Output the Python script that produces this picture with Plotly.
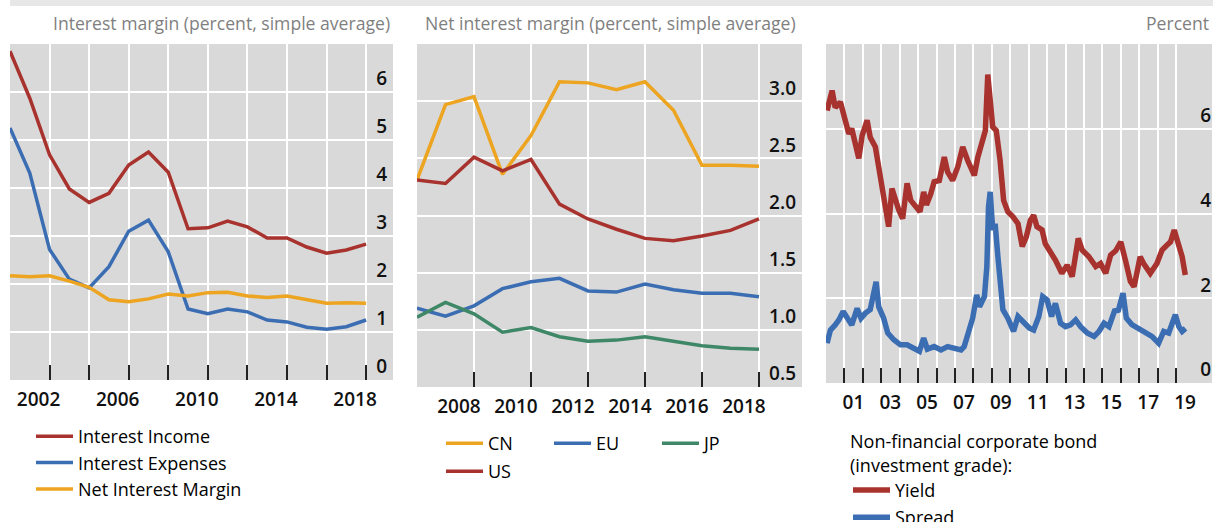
import plotly.graph_objects as go

W, H = 1213, 522

# ---------------- Panel 1: interest margin (simple average) ----------------
p1_years = list(range(2000, 2019))
p1_income = [6.85, 5.87, 4.69, 3.98, 3.70, 3.89, 4.48, 4.75, 4.33, 3.15, 3.17, 3.31,
             3.19, 2.96, 2.96, 2.77, 2.64, 2.71, 2.83]
p1_expenses = [5.25, 4.31, 2.72, 2.10, 1.92, 2.36, 3.10, 3.33, 2.67, 1.48, 1.38, 1.48,
               1.42, 1.25, 1.21, 1.10, 1.06, 1.11, 1.25]
p1_nim = [2.17, 2.15, 2.17, 2.06, 1.93, 1.67, 1.63, 1.69, 1.79, 1.75, 1.82, 1.83,
          1.75, 1.72, 1.75, 1.68, 1.60, 1.61, 1.60]
p1_tickvals = [2002, 2006, 2010, 2014, 2018]
p1_ticktext = ["2002", "2006", "2010", "2014", "2018"]
p1_minor = list(range(2000, 2019, 2))

# ---------------- Panel 2: net interest margin by region ----------------
p2_years = list(range(2006, 2019))
p2_cn = [2.31, 2.97, 3.04, 2.36, 2.70, 3.17, 3.16, 3.10, 3.17, 2.92, 2.44, 2.44, 2.43]
p2_us = [2.31, 2.28, 2.51, 2.39, 2.49, 2.10, 1.97, 1.88, 1.80, 1.78, 1.82, 1.87, 1.97]
p2_eu = [1.19, 1.12, 1.21, 1.36, 1.42, 1.45, 1.34, 1.33, 1.40, 1.35, 1.32, 1.32, 1.29]
p2_jp = [1.11, 1.24, 1.14, 0.98, 1.02, 0.94, 0.90, 0.91, 0.94, 0.90, 0.86, 0.84, 0.83]
p2_tickvals = [2008, 2010, 2012, 2014, 2016, 2018]
p2_ticktext = ["2008", "2010", "2012", "2014", "2016", "2018"]
p2_minor = list(range(2006, 2019, 2))
p2_yticks = [0.5, 1.0, 1.5, 2.0, 2.5, 3.0]

# ---------------- Panel 3: non-financial corporate bond (IG) ----------------
yield_t = [2000.06, 2000.33, 2000.5, 2000.78, 2001.0, 2001.24, 2001.4, 2001.6, 2001.78,
           2001.96, 2002.23, 2002.4, 2002.68, 2002.86, 2003.04, 2003.2, 2003.4, 2003.58,
           2003.77, 2003.95, 2004.16, 2004.4, 2004.6, 2004.85, 2005.1, 2005.3, 2005.45,
           2005.69, 2005.87, 2006.15, 2006.42, 2006.6, 2006.87, 2007.15, 2007.42, 2007.69,
           2008.05, 2008.24, 2008.5, 2008.65, 2008.78, 2008.91, 2009.05, 2009.24, 2009.45,
           2009.64, 2009.87, 2010.15, 2010.42, 2010.65, 2010.87, 2011.09, 2011.27, 2011.45,
           2011.73, 2011.9, 2012.18, 2012.45, 2012.8, 2013.09, 2013.36, 2013.69, 2013.9,
           2014.27, 2014.64, 2014.9, 2015.18, 2015.45, 2015.72, 2016.0, 2016.25, 2016.52,
           2016.72, 2016.9, 2017.05, 2017.24, 2017.6, 2017.96, 2018.24, 2018.5, 2018.7,
           2018.9, 2019.15, 2019.33, 2019.5]
yield_v = [6.43, 6.90, 6.50, 6.63, 6.27, 5.88, 6.00, 5.65, 5.30,
           5.84, 6.20, 5.80, 5.57, 5.10, 4.67, 4.31, 3.69, 4.59,
           4.31, 4.08, 3.88, 4.71, 4.31, 4.16, 4.04, 4.51, 4.20,
           4.47, 4.75, 4.78, 5.33, 4.98, 4.78, 5.10, 5.57, 5.25,
           4.90, 5.33, 5.73, 5.96, 7.28, 6.67, 6.04, 5.96, 5.25,
           4.31, 4.04, 3.92, 3.76, 3.22, 3.45, 3.84, 3.96, 3.69,
           3.61, 3.29, 3.10, 2.90, 2.59, 2.78, 2.51, 3.41, 3.14,
           2.98, 2.75, 2.82, 2.59, 3.02, 3.12, 3.33, 2.90, 2.40,
           2.27, 2.75, 2.98, 2.82, 2.59, 2.82, 3.14, 3.25, 3.33,
           3.61, 3.25, 2.98, 2.55]
spread_t = [2000.06, 2000.24, 2000.5, 2000.7, 2000.93, 2001.14, 2001.4, 2001.69, 2001.9,
            2002.14, 2002.4, 2002.59, 2002.72, 2002.86, 2003.13, 2003.35, 2003.68, 2004.04,
            2004.4, 2004.76, 2005.07, 2005.3, 2005.5, 2005.87, 2006.24, 2006.6, 2006.96,
            2007.33, 2007.5, 2007.69, 2007.96, 2008.18, 2008.33, 2008.6, 2008.73, 2008.82,
            2008.91, 2009.05, 2009.18, 2009.33, 2009.45, 2009.6, 2009.87, 2010.18, 2010.42,
            2010.69, 2011.03, 2011.27, 2011.55, 2011.76, 2012.0, 2012.24, 2012.45, 2012.73,
            2013.0, 2013.27, 2013.55, 2013.82, 2014.18, 2014.55, 2014.82, 2015.09, 2015.36,
            2015.66, 2015.87, 2016.12, 2016.3, 2016.6, 2016.96, 2017.33, 2017.69, 2018.05,
            2018.33, 2018.6, 2018.78, 2018.96, 2019.15, 2019.33, 2019.51]
spread_v = [0.94, 1.25, 1.37, 1.49, 1.69, 1.57, 1.37, 1.76, 1.53,
            1.65, 1.73, 2.12, 2.39, 1.80, 1.53, 1.18, 1.02, 0.90,
            0.90, 0.82, 0.75, 1.06, 0.80, 0.86, 0.78, 0.86, 0.82,
            0.78, 0.86, 1.18, 1.53, 2.08, 1.80, 2.04, 2.75, 4.16,
            4.51, 3.61, 3.76, 2.98, 2.27, 1.73, 1.53, 1.22, 1.57,
            1.45, 1.30, 1.25, 1.57, 2.04, 1.96, 1.57, 1.88, 1.41,
            1.33, 1.37, 1.49, 1.33, 1.18, 1.10, 1.22, 1.41, 1.33,
            1.70, 1.72, 2.12, 1.53, 1.38, 1.29, 1.18, 1.10, 0.94,
            1.22, 1.18, 1.37, 1.61, 1.33, 1.22, 1.29]
p3_tickvals = [2001, 2003, 2005, 2007, 2009, 2011, 2013, 2015, 2017, 2019]
p3_ticktext = ["01", "03", "05", "07", "09", "11", "13", "15", "17", "19"]
p3_minor = list(range(2001, 2020))
p3_yticks = [0, 2, 4, 6]

RED = "#A8322D"
BLUE = "#3B6DB3"
YEL = "#EDA521"
GRN = "#3E8767"
BG = "#D9D9D9"
FONT = "Open Sans"

fig = go.Figure()

def line(x, y, name, color, xa, ya, lg, w=3.5):
    fig.add_trace(go.Scatter(x=x, y=y, name=name, mode="lines",
                             line=dict(color=color, width=w),
                             xaxis=xa, yaxis=ya, legend=lg, hoverinfo="skip"))

line(p1_years, p1_income, "Interest Income", RED, "x", "y", "legend")
line(p1_years, p1_expenses, "Interest Expenses", BLUE, "x", "y", "legend")
line(p1_years, p1_nim, "Net Interest Margin", YEL, "x", "y", "legend")

line(p2_years, p2_cn, "CN", YEL, "x2", "y2", "legend2")
line(p2_years, p2_eu, "EU", BLUE, "x2", "y2", "legend2")
line(p2_years, p2_jp, "JP", GRN, "x2", "y2", "legend2")
line(p2_years, p2_us, "US", RED, "x2", "y2", "legend3")

line(yield_t, yield_v, "Yield", RED, "x3", "y3", "legend4", w=5.5)
line(spread_t, spread_v, "Spread", BLUE, "x3", "y4", "legend5", w=5.5)

def px(v):
    return v / W

def py(v):
    return 1 - v / H

tickfont = dict(family=FONT, size=19, color="#111111", weight=600)

def xax(dom, rng, tv, tt, minor_vals, shift, anchor):
    return dict(domain=dom, range=rng, anchor=anchor, automargin=False, tickmode="array",
                tickvals=tv, ticktext=tt, ticks="inside", ticklen=15, tickwidth=1.5,
                tickcolor="#222", showgrid=True, gridcolor="white", gridwidth=1.5,
                zeroline=False, showline=False, tickfont=tickfont, ticklabelshift=shift,
                ticklabelstandoff=6,
                minor=dict(tickmode="array", tickvals=minor_vals, ticks="inside", ticklen=15,
                           tickwidth=1.5, tickcolor="#222", showgrid=True,
                           gridcolor="white", gridwidth=1.5))

def yax(dom, rng, tv, tt, anchor, standoff=3):
    return dict(domain=dom, range=rng, anchor=anchor, automargin=False, side="right",
                ticklabelposition="inside top", tickmode="array", tickvals=tv, ticktext=tt,
                ticks="", showgrid=True, gridcolor="white", gridwidth=1.5,
                zeroline=False, showline=False, tickfont=tickfont,
                ticklabelstandoff=standoff)

legfont = dict(family=FONT, size=18, color="black")

def leg(x, y, orient="v", **kw):
    d = dict(x=px(x), y=py(y), xanchor="left", yanchor="top", orientation=orient,
             itemwidth=37, font=legfont, bgcolor="rgba(0,0,0,0)", borderwidth=0,
             tracegroupgap=0)
    d.update(kw)
    return d

# panel 3: gridlines from yaxis3, tick labels from an overlaid free axis whose
# outside-left labels sit just inside the right edge of the plot area
yaxis3 = yax([py(383), py(44)], [0, 8], p3_yticks, [str(v) for v in p3_yticks], "x3")
yaxis3["showticklabels"] = False
yaxis4 = dict(overlaying="y3", range=[0, 8], anchor="free", position=px(1212), side="left",
              automargin=False, ticklabelposition="outside top", tickmode="array",
              tickvals=p3_yticks, ticktext=[str(v) for v in p3_yticks], ticks="",
              showgrid=False, zeroline=False, showline=False, tickfont=tickfont,
              ticklabelstandoff=1)

fig.update_layout(
    template="none",
    width=W, height=H, margin=dict(l=0, r=0, t=0, b=0, autoexpand=False),
    paper_bgcolor="white", plot_bgcolor=BG,
    font=dict(family=FONT, size=19, color="black"),
    showlegend=True,
    xaxis=xax([px(10), px(393)], [2000, 2019.36], p1_tickvals, p1_ticktext, p1_minor, -11, "y"),
    yaxis=yax([py(380), py(44)], [0, 7], [0, 1, 2, 3, 4, 5, 6],
              ["0", "1", "2", "3", "4", "5", "6"], "x"),
    xaxis2=xax([px(417), px(802)], [2006, 2019.51], p2_tickvals, p2_ticktext, p2_minor, -15, "y2"),
    yaxis2=yax([py(387), py(44)], [0.5, 3.5], p2_yticks, [f"{v:.1f}" for v in p2_yticks], "x2"),
    xaxis3=xax([px(826), px(1212)], [2000, 2020.95], p3_tickvals, p3_ticktext, p3_minor, 9, "y3"),
    yaxis3=yaxis3,
    yaxis4=yaxis4,
    legend=leg(31, 418),
    legend2=leg(441, 425, "h", entrywidth=56),
    legend3=leg(441, 453, "h"),
    legend4=leg(848, 425, "v",
                title=dict(text="Non-financial corporate bond<br>(investment grade):",
                           side="top", font=legfont)),
    legend5=leg(848, 499, "h"),
    shapes=[dict(type="rect", xref="paper", yref="paper", x0=px(10), x1=1,
                 y0=py(6), y1=1, fillcolor="#E7E7E7", line=dict(width=0), layer="below")],
    annotations=[
        dict(text="Interest margin (percent, simple average)", xref="paper", yref="paper",
             x=px(392), y=py(23), xanchor="right", yanchor="middle", showarrow=False,
             font=dict(family=FONT, size=17.6, color="#7F7F7F")),
        dict(text="Net interest margin (percent, simple average)", xref="paper", yref="paper",
             x=px(798), y=py(23), xanchor="right", yanchor="middle", showarrow=False,
             font=dict(family=FONT, size=17.6, color="#7F7F7F")),
        dict(text="Percent", xref="paper", yref="paper",
             x=px(1211), y=py(23), xanchor="right", yanchor="middle", showarrow=False,
             font=dict(family=FONT, size=17.6, color="#7F7F7F")),
    ],
)

fig.write_html("out.html", config={"displayModeBar": False},
               post_script="document.body.style.margin='0';")
